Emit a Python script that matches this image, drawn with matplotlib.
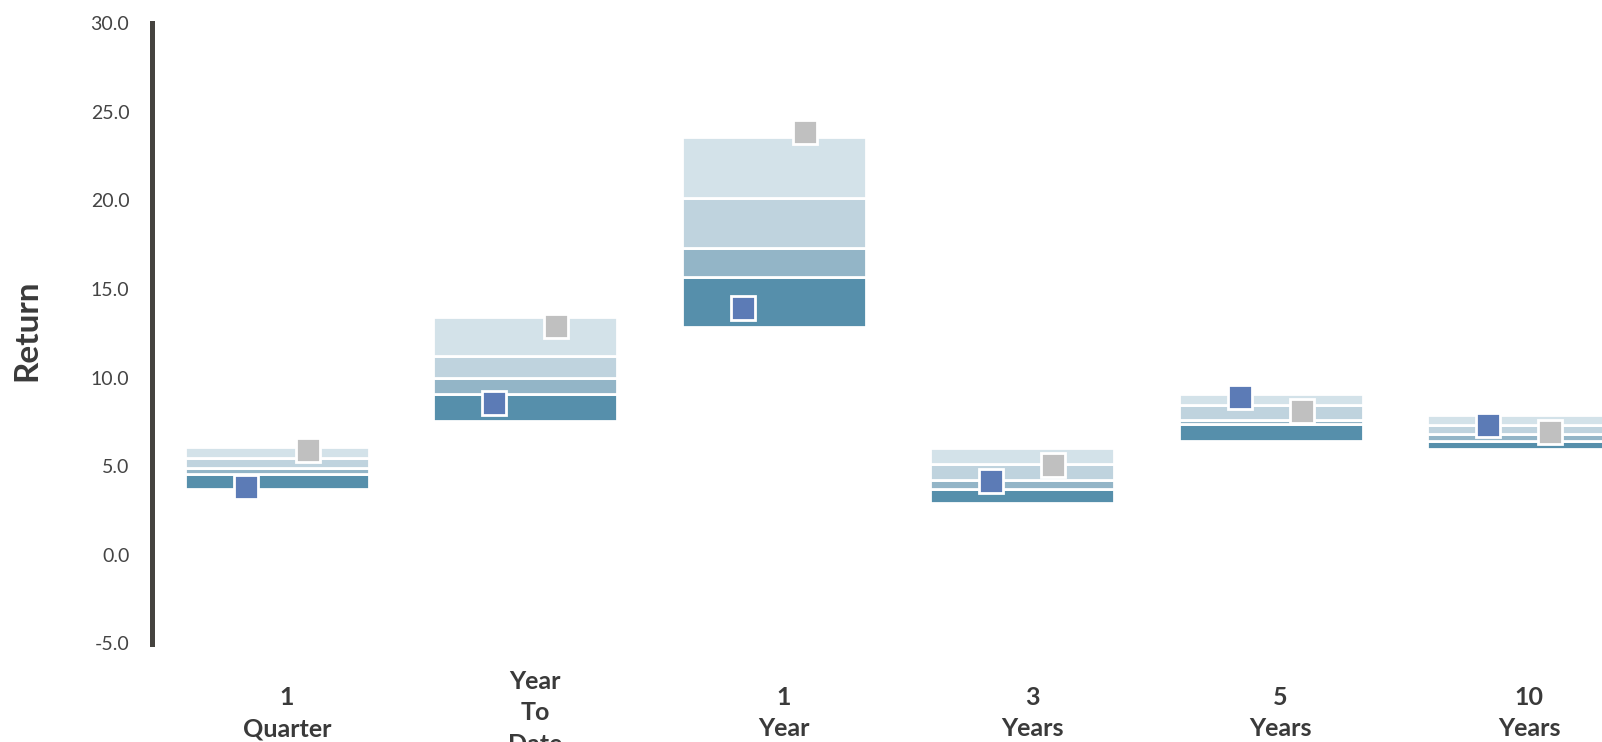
import matplotlib
matplotlib.use('Agg')
import matplotlib.pyplot as plt
import matplotlib.transforms as mtransforms
import numpy as np

plt.rcParams['font.family'] = ['Lato', 'DejaVu Sans']

# periods and percentile bands of the peer universe
periods = ['1\nQuarter', 'Year\nTo\nDate', '1\nYear', '3\nYears', '5\nYears', '10\nYears']
p95 = [6.1, 13.4, 23.55, 6.0, 9.05, 7.9]
p75 = [5.45, 11.2, 20.15, 5.15, 8.45, 7.35]
p50 = [4.9, 10.0, 17.3, 4.25, 7.6, 6.8]
p25 = [4.55, 9.1, 15.65, 3.7, 7.4, 6.45]
p05 = [3.7, 7.55, 12.85, 2.95, 6.4, 5.95]
portfolio = [3.8, 8.55, 13.95, 4.15, 8.9, 7.35]
benchmark = [5.9, 12.9, 23.85, 5.05, 8.1, 6.95]

band_colors = ['#568fab', '#93b5c7', '#bfd3de', '#d3e2e9']

fig = plt.figure(figsize=(16.02, 7.42), dpi=100)
ax = fig.add_axes([151.5 / 1602, 1 - 643.5 / 742, 1 - 151.5 / 1602, (643.5 - 23) / 742])

x = np.arange(len(periods))
width = 0.74
lows = [p05, p25, p50, p75]
highs = [p25, p50, p75, p95]
for lo, hi, c in zip(lows, highs, band_colors):
    ax.bar(x, np.array(hi) - np.array(lo), bottom=lo, width=width, color=c,
           edgecolor='white', linewidth=2, zorder=2)

ax.plot(x - 0.125, portfolio, 's', ms=17, mfc='#5c7bb6', mec='white', mew=2, zorder=3)
ax.plot(x + 0.125, benchmark, 's', ms=17, mfc='#c0c0c0', mec='white', mew=2, zorder=3)

ax.set_xlim(-0.505, 5.334)
ax.set_ylim(-5, 30)
ax.set_yticks(np.arange(-5, 31, 5))
ax.set_yticklabels([f'{v:.1f}' for v in np.arange(-5, 31, 5)])
ax.set_xticks(x)
ax.set_xticklabels(periods)

for s in ['top', 'right', 'bottom']:
    ax.spines[s].set_visible(False)
ax.spines['left'].set_color('#45433f')
ax.spines['left'].set_linewidth(3.6)

ax.tick_params(axis='y', length=0, pad=16, labelsize=14, labelcolor='#444444')
ax.tick_params(axis='x', length=0, pad=50, labelsize=18, labelcolor='#3a3a3a')
shift = mtransforms.ScaledTranslation(0.10, 0, fig.dpi_scale_trans)
for lbl in ax.get_xticklabels():
    lbl.set_va('center')
    lbl.set_linespacing(1.45)
    lbl.set_fontweight('bold')
    lbl.set_transform(lbl.get_transform() + shift)

ax.set_ylabel('Return', fontsize=24, color='#3a3a3a', fontweight='bold')
ax.yaxis.set_label_coords(-0.0758, 0.505)

fig.savefig('out.png', dpi=100)
